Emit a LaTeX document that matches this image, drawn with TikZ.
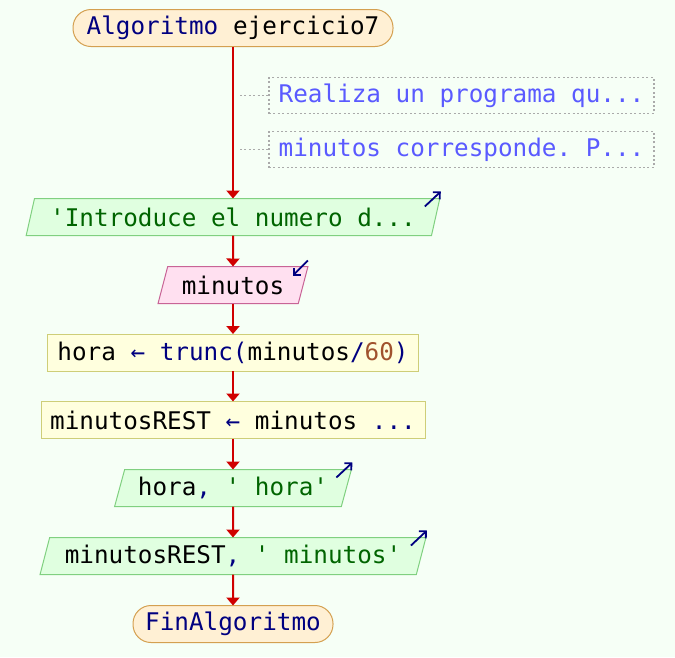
\documentclass[tikz,border=0pt]{standalone}
\usepackage{fontspec}
\setmonofont{DejaVu Sans Mono}
\usetikzlibrary{arrows.meta,shapes.geometric}

\definecolor{bgcol}{RGB}{246,255,246}
\definecolor{termfill}{RGB}{255,240,212}
\definecolor{termline}{RGB}{212,160,80}
\definecolor{procfill}{RGB}{255,255,222}
\definecolor{procline}{RGB}{206,206,120}
\definecolor{outfill}{RGB}{224,255,224}
\definecolor{outline}{RGB}{128,208,128}
\definecolor{inpfill}{RGB}{255,224,240}
\definecolor{inpline}{RGB}{200,100,150}
\definecolor{notegray}{RGB}{170,170,170}
\definecolor{notetext}{RGB}{90,90,255}
\definecolor{flowred}{RGB}{208,0,0}
\definecolor{kw}{RGB}{0,0,128}
\definecolor{str}{RGB}{0,100,0}
\definecolor{num}{RGB}{160,82,45}

\begin{document}
\begin{tikzpicture}[x=1pt,y=1pt,
  every node/.style={font=\ttfamily\fontsize{24.3}{29}\selectfont,
    outer sep=0pt, inner sep=0pt, line width=1pt},
  term/.style={draw=termline, fill=termfill, rounded corners=18pt, minimum height=37pt},
  proc/.style={draw=procline, fill=procfill, minimum height=37pt},
  pio/.style={trapezium, trapezium left angle=68, trapezium right angle=112,
    trapezium stretches=true, minimum height=37pt},
  outbox/.style={pio, draw=outline, fill=outfill},
  inbox/.style={pio, draw=inpline, fill=inpfill},
  note/.style={draw=notegray, line width=1.2pt, dash pattern=on 2pt off 2.4pt,
    text=notetext, minimum width=385pt, minimum height=36pt},
  flow/.style={draw=flowred, line width=2pt, -{Triangle[width=13pt,length=8pt]}},
  leader/.style={draw=notegray, line width=1.5pt, dash pattern=on 2pt off 2.4pt},
  io/.style={draw=kw, line width=1.8pt, -{Straight Barb[length=5pt,width=10pt]}}
]
% page and background
\useasboundingbox (0,0) rectangle (675,-657);
\fill[bgcol] (0,0) rectangle (675,-657);

% flowchart nodes
\node[term, minimum width=320pt] (start) at (233,-28) {{\color{kw}Algoritmo} ejercicio7};
\node[note] (n1) at (461.5,-95.6) {Realiza un programa qu...};
\node[note] (n2) at (461.5,-149.5) {minutos corresponde. P...};
\node[outbox, minimum width=416pt] (o1) at (233,-217) {\color{str}'Introduce el numero d...};
\node[inbox, minimum width=150pt] (i1) at (233,-285) {minutos};
\node[proc, minimum width=371pt] (p1) at (233,-352.5)
  {hora {\color{kw}←} {\color{kw}trunc(}minutos{\color{kw}/}{\color{num}60}{\color{kw})}};
\node[proc, minimum width=384pt] (p2) at (233,-420)
  {minutosREST {\color{kw}←} minutos {\color{kw}...}};
\node[outbox, minimum width=237pt] (o2) at (233,-488) {hora{\color{kw},} {\color{str}' hora'}};
\node[outbox, minimum width=386pt] (o3) at (233,-556) {minutosREST{\color{kw},} {\color{str}' minutos'}};
\node[term, minimum width=200pt] (end) at (233,-624) {\color{kw}FinAlgoritmo};

% comment leaders
\coordinate (l1) at (240,-95.6);
\coordinate (l2) at (240,-149.5);
\draw[leader] (l1) -- (n1.west);
\draw[leader] (l2) -- (n2.west);

% flow
\draw[flow] (start) -- (o1);
\draw[flow] (o1) -- (i1);
\draw[flow] (i1) -- (p1);
\draw[flow] (p1) -- (p2);
\draw[flow] (p2) -- (o2);
\draw[flow] (o2) -- (o3);
\draw[flow] (o3) -- (end);

% input / output markers
\draw[io] ([shift={(-15,-8)}]o1.top right corner) -- ([shift={(1,7)}]o1.top right corner);
\draw[io] ([shift={(-15,-8)}]o2.top right corner) -- ([shift={(1,7)}]o2.top right corner);
\draw[io] ([shift={(-15,-8)}]o3.top right corner) -- ([shift={(1,7)}]o3.top right corner);
\draw[io] ([shift={(0,6)}]i1.top right corner) -- ([shift={(-15,-9)}]i1.top right corner);
\end{tikzpicture}
\end{document}
